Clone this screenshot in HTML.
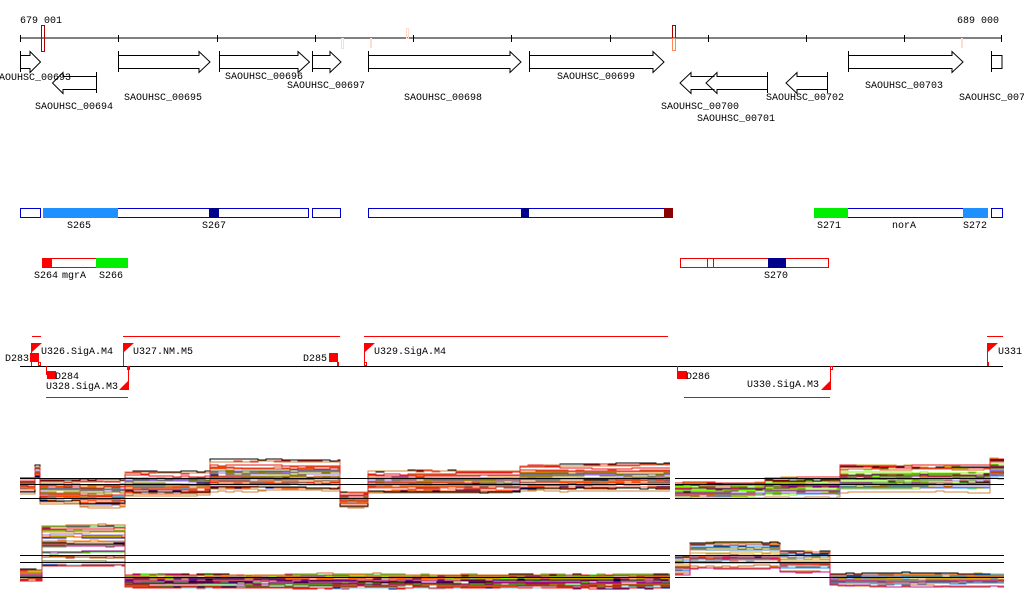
<!DOCTYPE html>
<html><head><meta charset="utf-8"><style>
html,body{margin:0;padding:0;background:#fff;width:1024px;height:611px;overflow:hidden}
svg{display:block}
text{font-family:"Liberation Mono","DejaVu Sans Mono",monospace;font-size:10px;fill:#000}
</style></head><body>
<svg id="s" width="1024" height="611" xmlns="http://www.w3.org/2000/svg">
<g id="plots"></g>
<text x="20" y="23">679 001</text>
<text x="957" y="23">689 000</text>
<line x1="20" y1="38" x2="1002" y2="38" stroke="#000"/>
<g stroke="#000">
<line x1="20.5" y1="35" x2="20.5" y2="42"/><line x1="118.5" y1="35" x2="118.5" y2="42"/><line x1="217.5" y1="35" x2="217.5" y2="42"/><line x1="315.5" y1="35" x2="315.5" y2="42"/><line x1="413.5" y1="35" x2="413.5" y2="42"/><line x1="511.5" y1="35" x2="511.5" y2="42"/><line x1="610.5" y1="35" x2="610.5" y2="42"/><line x1="708.5" y1="35" x2="708.5" y2="42"/><line x1="806.5" y1="35" x2="806.5" y2="42"/><line x1="904.5" y1="35" x2="904.5" y2="42"/><line x1="1001.5" y1="35" x2="1001.5" y2="42"/>
</g>
<rect x="41.5" y="25.5" width="3" height="26" fill="none" stroke="#a00"/>
<rect x="672.5" y="25.5" width="3" height="13" fill="none" stroke="#a00"/>
<rect x="672.5" y="38.5" width="3" height="12" fill="none" stroke="#f85"/>
<rect x="341.5" y="38.5" width="2" height="10" fill="none" stroke="#fdc"/>
<rect x="370" y="38" width="2" height="10" fill="#fdc"/>
<rect x="406.5" y="28.5" width="2" height="10" fill="none" stroke="#fdc"/>
<rect x="961" y="38" width="2" height="10" fill="#fdc"/>
<g fill="none" stroke="#000">
<path d="M20.5 51V72M20.5 55.5H30V51.5L40.5 62L30 72.5V68.5H20.5"/>
<path d="M96.5 72V93M96.5 76.5H63V72.5L52.5 83L63 93.5V89.5H96.5"/>
<path d="M118.5 51V72M118.5 55.5H199V51.5L210 62L199 72.5V68.5H118.5"/>
<path d="M219.5 51V72M219.5 55.5H298V51.5L309.5 62L298 72.5V68.5H219.5"/>
<path d="M312.5 51V72M312.5 55.5H330V51.5L341 62L330 72.5V68.5H312.5"/>
<path d="M368.5 51V72M368.5 55.5H510V51.5L521 62L510 72.5V68.5H368.5"/>
<path d="M529.5 51V72M529.5 55.5H653V51.5L664 62L653 72.5V68.5H529.5"/>
<path d="M714.5 76.5H691V72.5L680 83L691 93.5V89.5H714.5"/>
<path d="M767.5 72V93M767.5 76.5H717V72.5L706 83L717 93.5V89.5H767.5"/>
<path d="M827.5 72V93M827.5 76.5H797V72.5L786 83L797 93.5V89.5H827.5"/>
<path d="M848.5 51V72M848.5 55.5H952V51.5L963 62L952 72.5V68.5H848.5"/>
<path d="M991.5 51V72M991.5 55.5H1002V68.5H991.5"/>
</g>
<g text-anchor="middle">
<text x="32" y="80">SAOUHSC_00693</text>
<text x="74" y="109">SAOUHSC_00694</text>
<text x="163" y="100">SAOUHSC_00695</text>
<text x="264" y="79">SAOUHSC_00696</text>
<text x="326" y="88">SAOUHSC_00697</text>
<text x="443" y="100">SAOUHSC_00698</text>
<text x="596" y="79">SAOUHSC_00699</text>
<text x="700" y="109">SAOUHSC_00700</text>
<text x="736" y="121">SAOUHSC_00701</text>
<text x="805" y="100">SAOUHSC_00702</text>
<text x="904" y="88">SAOUHSC_00703</text>
<text x="995" y="100">SAOUHSC_0070</text>
</g>
<g stroke="#00c" fill="none">
<rect x="20.5" y="208.5" width="20" height="9"/>
<rect x="43.5" y="208.5" width="265" height="9"/>
<rect x="312.5" y="208.5" width="28" height="9"/>
<rect x="368.5" y="208.5" width="304" height="9"/>
<rect x="814.5" y="208.5" width="173" height="9"/>
<rect x="991.5" y="208.5" width="11" height="9"/>
</g>
<rect x="43" y="208" width="75" height="10" fill="#1e90ff"/>
<rect x="209" y="208" width="10" height="10" fill="#00008b"/>
<rect x="521" y="208" width="8" height="10" fill="#00008b"/>
<rect x="664" y="208" width="9" height="10" fill="#8b0000"/>
<rect x="814" y="208" width="34" height="10" fill="#0e0"/>
<rect x="963" y="208" width="25" height="10" fill="#1e90ff"/>
<g text-anchor="middle">
<text x="79" y="228">S265</text><text x="214" y="228">S267</text>
<text x="829" y="228">S271</text><text x="904" y="228">norA</text><text x="975" y="228">S272</text>
</g>
<g stroke="#e00" fill="none">
<rect x="42.5" y="258.5" width="85" height="9"/>
<rect x="680.5" y="258.5" width="148" height="9"/>
<line x1="707.5" y1="258" x2="707.5" y2="268"/><line x1="713.5" y1="258" x2="713.5" y2="268"/>
</g>
<rect x="42" y="258" width="10" height="10" fill="#f00"/>
<rect x="96" y="258" width="32" height="10" fill="#0e0"/>
<rect x="768" y="258" width="18" height="10" fill="#00008b"/>
<g text-anchor="middle">
<text x="46" y="278">S264</text><text x="74" y="278">mgrA</text><text x="111" y="278">S266</text><text x="776" y="278">S270</text>
</g>
<line x1="20" y1="366.5" x2="1003" y2="366.5" stroke="#000"/>
<g stroke="#f00">
<line x1="32" y1="336.5" x2="41" y2="336.5"/><line x1="123" y1="336.5" x2="340" y2="336.5"/>
<line x1="364" y1="336.5" x2="668" y2="336.5"/><line x1="987" y1="336.5" x2="1003" y2="336.5"/>
<line x1="46" y1="397.5" x2="128" y2="397.5"/><line x1="684" y1="397.5" x2="830" y2="397.5"/>
<line x1="31.5" y1="343" x2="31.5" y2="366"/><line x1="123.5" y1="343" x2="123.5" y2="366"/>
<line x1="364.5" y1="343" x2="364.5" y2="366"/><line x1="987.5" y1="343" x2="987.5" y2="366"/>
<line x1="128.5" y1="366" x2="128.5" y2="390"/><line x1="830.5" y1="366" x2="830.5" y2="390"/>
<line x1="46.5" y1="366" x2="46.5" y2="375"/><line x1="677.5" y1="366" x2="677.5" y2="375"/>
</g>
<g fill="#f00">
<path d="M32 343H42L32 352Z"/><path d="M124 343H134L124 352Z"/><path d="M365 343H375L365 352Z"/><path d="M988 343H998L988 352Z"/>
<path d="M128 381V390H119Z"/><path d="M830 381V390H821Z"/>
<rect x="30" y="353" width="9" height="9"/><rect x="329" y="353" width="9" height="9"/>
<rect x="47" y="371" width="9" height="8"/><rect x="677" y="371" width="10" height="8"/>
<rect x="337" y="362" width="2" height="4"/><rect x="987" y="362" width="2" height="4"/>
</g>
<g fill="none" stroke="#f00"><rect x="38.5" y="362.5" width="2" height="3"/><rect x="127.5" y="366.5" width="2" height="3"/><rect x="364.5" y="362.5" width="2" height="3"/><rect x="830.5" y="366.5" width="2" height="3"/></g>
<g style="font-size:11px">
<text x="41" y="354">U326.SigA.M4</text>
<text x="133" y="354">U327.NM.M5</text>
<text x="374" y="354">U329.SigA.M4</text>
<text x="998" y="354">U331.</text>
<text x="5" y="361">D283</text>
<text x="303" y="361">D285</text>
<text x="55" y="379">D284</text>
<text x="686" y="379">D286</text>
<text x="46" y="389">U328.SigA.M3</text>
<text x="747" y="387">U330.SigA.M3</text>
</g>
<g stroke="#000">
<line x1="20" y1="478.5" x2="670" y2="478.5"/><line x1="20" y1="484.5" x2="670" y2="484.5"/><line x1="20" y1="498.5" x2="670" y2="498.5"/>
<line x1="675" y1="478.5" x2="1004" y2="478.5"/><line x1="675" y1="484.5" x2="1004" y2="484.5"/><line x1="675" y1="498.5" x2="1004" y2="498.5"/>
<line x1="20" y1="555.5" x2="670" y2="555.5"/><line x1="20" y1="562.5" x2="670" y2="562.5"/><line x1="20" y1="577.5" x2="670" y2="577.5"/>
<line x1="675" y1="555.5" x2="1004" y2="555.5"/><line x1="675" y1="562.5" x2="1004" y2="562.5"/><line x1="675" y1="577.5" x2="1004" y2="577.5"/>
</g>
</svg>
<script>
(function(){
var seed=11;function r(){seed=(seed*16807)%2147483647;return seed/2147483647;}
var cols=["#e41a1c","#ff7f00","#8b4513","#808000","#7cfc00","#c71585","#1e90ff","#87ceeb","#9370db","#d2691e","#b22222","#556b2f","#ff6347","#daa520","#800080","#000080","#4682b4","#cd853f","#bc8f8f","#32cd32","#a0522d","#ff4500"];
var g=document.getElementById("plots"),ns="http://www.w3.org/2000/svg";
var top1=[[20,35,486,8],[35,40,472,6],[40,80,492,12],[80,125,494,14],[125,210,484,12],[210,340,476,16],[340,368,500,8],[368,520,482,12],[520,670,478,14]];
var top2=[[675,765,490,8],[765,840,487,10],[840,990,478,14],[990,1004,468,10]];
var bot1=[[20,42,575,6],[42,125,545,22],[125,670,581,7]];
var bot2=[[675,690,566,10],[690,780,556,14],[780,830,562,12],[830,1004,580,6]];
function draw(segs,n){
 for(var i=0;i<n;i++){
  var k=(r()*2-1);k=k*Math.abs(k)*0.6+k*0.4;var pts=[],w=0;
  segs.forEach(function(s){
   for(var x=s[0];x<=s[1];x+=8){w+= (r()-0.5)*1.2;w*=0.9;var y=s[2]+k*s[3]+w;var xx=Math.min(x,s[1]);pts.push(xx+","+y.toFixed(0));pts.push(Math.min(xx+8,s[1])+","+y.toFixed(0));}
  });
  var p=document.createElementNS(ns,"polyline");
  p.setAttribute("points",pts.join(" "));p.setAttribute("fill","none");
  p.setAttribute("stroke",i%12==0?"#000":cols[Math.floor(r()*cols.length)]);p.setAttribute("stroke-width","1");
  g.appendChild(p);
 }
}
draw(top1,34);draw(top2,34);draw(bot1,34);draw(bot2,34);
})();
</script>
</body></html>
